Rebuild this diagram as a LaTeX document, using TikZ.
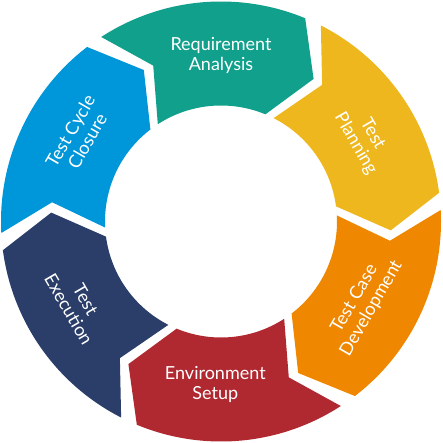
\documentclass[tikz,border=0pt]{standalone}
\usepackage{fontspec}
\setmainfont{Lato}
\definecolor{cteal}{RGB}{16,160,140}
\definecolor{cyellow}{RGB}{238,183,30}
\definecolor{corange}{RGB}{240,135,0}
\definecolor{cred}{RGB}{176,40,48}
\definecolor{cnavy}{RGB}{42,62,105}
\definecolor{cblue}{RGB}{0,150,218}
\begin{document}
\begin{tikzpicture}
\useasboundingbox (-221pt,-221.5pt) rectangle (221pt,221.5pt);
\tikzset{lbl/.style={text=white, align=center, inner sep=0pt, font=\fontsize{18}{19.5}\selectfont}}
\foreach \t/\c in {123/cteal,63/cyellow,3/corange,-57/cred,-117/cnavy,-177/cblue}{
  \fill[\c] (\t:220pt) arc[start angle=\t, end angle=\t-55.5, radius=220pt]
    -- ({\t-66}:170pt) -- ({\t-55.5}:116pt)
    arc[start angle=\t-55.5, end angle=\t, radius=116pt]
    -- ({\t-9.5}:170pt) -- cycle;
}
\node[lbl] (req) at (90:166pt) {Requirement\\Analysis};
\node[lbl, rotate=-60] (plan) at (30:165pt) {Test\\Planning};
\node[lbl, rotate=60] (dev) at (-30:164pt) {Test Case\\Development};
\node[lbl] (env) at (-92:163pt) {Environment\\Setup};
\node[lbl, rotate=-60] (exec) at (210:166pt) {Test\\Execution};
\node[lbl, rotate=60] (close) at (149:166pt) {Test Cycle\\Closure};
\end{tikzpicture}
\end{document}
